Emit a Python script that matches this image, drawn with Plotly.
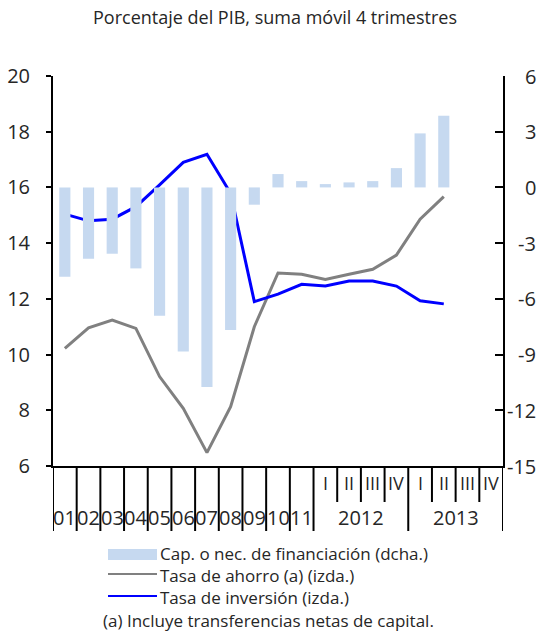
import plotly.graph_objects as go

# ---------------- data ----------------
periods = ['2001', '2002', '2003', '2004', '2005', '2006', '2007', '2008', '2009', '2010', '2011',
           '2012 I', '2012 II', '2012 III', '2012 IV', '2013 I', '2013 II']
cap_fin = [-4.81, -3.84, -3.57, -4.36, -6.91, -8.84, -10.74, -7.68, -0.93, 0.72, 0.34,
           0.18, 0.27, 0.34, 1.04, 2.91, 3.86]
ahorro = [10.22, 10.96, 11.24, 10.94, 9.21, 8.07, 6.48, 8.13, 11.00, 12.93, 12.88,
          12.70, 12.88, 13.06, 13.57, 14.86, 15.67]
inversion = [15.04, 14.80, 14.86, 15.31, 16.09, 16.90, 17.19, 15.79, 11.90, 12.17, 12.52,
             12.46, 12.64, 12.64, 12.46, 11.93, 11.82]

annual_labels = ['01', '02', '03', '04', '05', '06', '07', '08', '09', '10', '11']
quarter_labels = ['I', 'II', 'III', 'IV']
year_labels = ['2012', '2013']

left_ticks = [6, 8, 10, 12, 14, 16, 18, 20]
right_ticks = [-15, -12, -9, -6, -3, 0, 3, 6]

legend_names = ['Cap. o nec. de financiación (dcha.)',
                'Tasa de ahorro (a) (izda.)',
                'Tasa de inversión (izda.)']
subtitle = 'Porcentaje del PIB, suma móvil 4 trimestres'
footnote = '(a) Incluye transferencias netas de capital.'

# ---------------- styles ----------------
FONT = 'Open Sans'
TXT = '#262626'
BAR_C = '#C6D9F0'
GRAY_C = '#808080'
BLUE_C = '#0000FF'

n_slots = len(annual_labels) + len(quarter_labels) * len(year_labels)
xs = list(range(len(periods)))

fig = go.Figure()
fig.add_trace(go.Bar(x=xs, y=cap_fin, yaxis='y2', marker=dict(color=BAR_C, line=dict(width=0)),
                     width=0.47, name=legend_names[0], showlegend=False))
fig.add_trace(go.Scatter(x=xs, y=ahorro, mode='lines', line=dict(color=GRAY_C, width=3),
                         name=legend_names[1], showlegend=False))
fig.add_trace(go.Scatter(x=xs, y=inversion, mode='lines', line=dict(color=BLUE_C, width=3),
                         name=legend_names[2], showlegend=False))

shapes = []
annotations = []

PH = 390.0  # plot height px
PW = 450.0  # plot width px

def py(dpx):
    """pixels below the x axis -> paper y"""
    return -dpx / PH

# category separators
n_ann = len(annual_labels)
long_len = py(65)
short_len = py(36)
for i in range(n_slots + 1):
    xb = i - 0.5
    if i <= n_ann:
        y1 = long_len
    else:
        k = i - n_ann
        y1 = long_len if k % len(quarter_labels) == 0 else short_len
    shapes.append(dict(type='line', xref='x', yref='paper', x0=xb, x1=xb, y0=0, y1=y1,
                       line=dict(color='black', width=2)))

for i, lab in enumerate(annual_labels):
    annotations.append(dict(x=i, y=py(51), xref='x', yref='paper', text=lab, showarrow=False,
                            font=dict(family=FONT, size=20, color=TXT), xanchor='center', yanchor='middle'))
for j, yl in enumerate(year_labels):
    start = n_ann + j * len(quarter_labels)
    for q, ql in enumerate(quarter_labels):
        annotations.append(dict(x=start + q, y=py(17), xref='x', yref='paper', text=ql, showarrow=False,
                                font=dict(family=FONT, size=18, color=TXT), xanchor='center', yanchor='middle'))
    annotations.append(dict(x=start + (len(quarter_labels) - 1) / 2, y=py(51), xref='x', yref='paper',
                            text=yl, showarrow=False,
                            font=dict(family=FONT, size=20, color=TXT), xanchor='center', yanchor='middle'))

# right axis labels (right-aligned)
for v in right_ticks:
    annotations.append(dict(x=(538 - 53) / PW, y=v, xref='paper', yref='y2', text=str(v), showarrow=False,
                            font=dict(family=FONT, size=20, color=TXT), xanchor='right', yanchor='middle'))

# subtitle
annotations.append(dict(x=(275 - 53) / PW, y=(466 - 17) / PH, xref='paper', yref='paper', text=subtitle,
                        showarrow=False, font=dict(family=FONT, size=18, color=TXT),
                        xanchor='center', yanchor='middle'))

# custom legend
lx0, lx1 = (108 - 53) / PW, (157 - 53) / PW
tx = (158 - 53) / PW
shapes.append(dict(type='rect', xref='paper', yref='paper', x0=lx0, x1=lx1, y0=py(549 - 466), y1=py(560 - 466),
                   fillcolor=BAR_C, line=dict(width=0)))
shapes.append(dict(type='line', xref='paper', yref='paper', x0=lx0, x1=lx1, y0=py(574 - 466), y1=py(574 - 466),
                   line=dict(color=GRAY_C, width=2)))
shapes.append(dict(type='line', xref='paper', yref='paper', x0=lx0, x1=lx1, y0=py(596 - 466), y1=py(596 - 466),
                   line=dict(color=BLUE_C, width=2)))
for k, yy in enumerate([553, 575, 597]):
    annotations.append(dict(x=tx, y=py(yy - 466), xref='paper', yref='paper', text=legend_names[k],
                            showarrow=False, font=dict(family=FONT, size=17, color=TXT),
                            xanchor='left', yanchor='middle'))
annotations.append(dict(x=(268 - 53) / PW, y=py(620 - 466), xref='paper', yref='paper', text=footnote,
                        showarrow=False, font=dict(family=FONT, size=17, color=TXT),
                        xanchor='center', yanchor='middle'))

fig.update_layout(
    width=541, height=636,
    margin=dict(l=53, r=38, t=76, b=170, pad=0),
    plot_bgcolor='white', paper_bgcolor='white',
    showlegend=False,
    bargap=0.5,
    xaxis=dict(range=[-0.5, n_slots - 0.5], showticklabels=False, ticks='', showgrid=False,
               zeroline=False, showline=True, linecolor='black', linewidth=2, automargin=False),
    yaxis=dict(range=[6, 20], tickvals=left_ticks, ticks='outside', ticklen=5, tickwidth=2,
               tickcolor='black', showline=True, linecolor='black', linewidth=2, showgrid=False,
               zeroline=False, tickfont=dict(family=FONT, size=20, color=TXT), ticklabelstandoff=12,
               automargin=False),
    yaxis2=dict(range=[-15, 6], tickvals=right_ticks, overlaying='y', side='right', ticks='inside',
                ticklen=8, tickwidth=2, tickcolor='black', showline=True, linecolor='black',
                linewidth=2, showgrid=False, zeroline=False, showticklabels=False, automargin=False),
    shapes=shapes,
    annotations=annotations,
)

fig.write_html('out.html', config={'displayModeBar': False},
               post_script="document.body.style.margin='0';document.body.style.padding='0';")
